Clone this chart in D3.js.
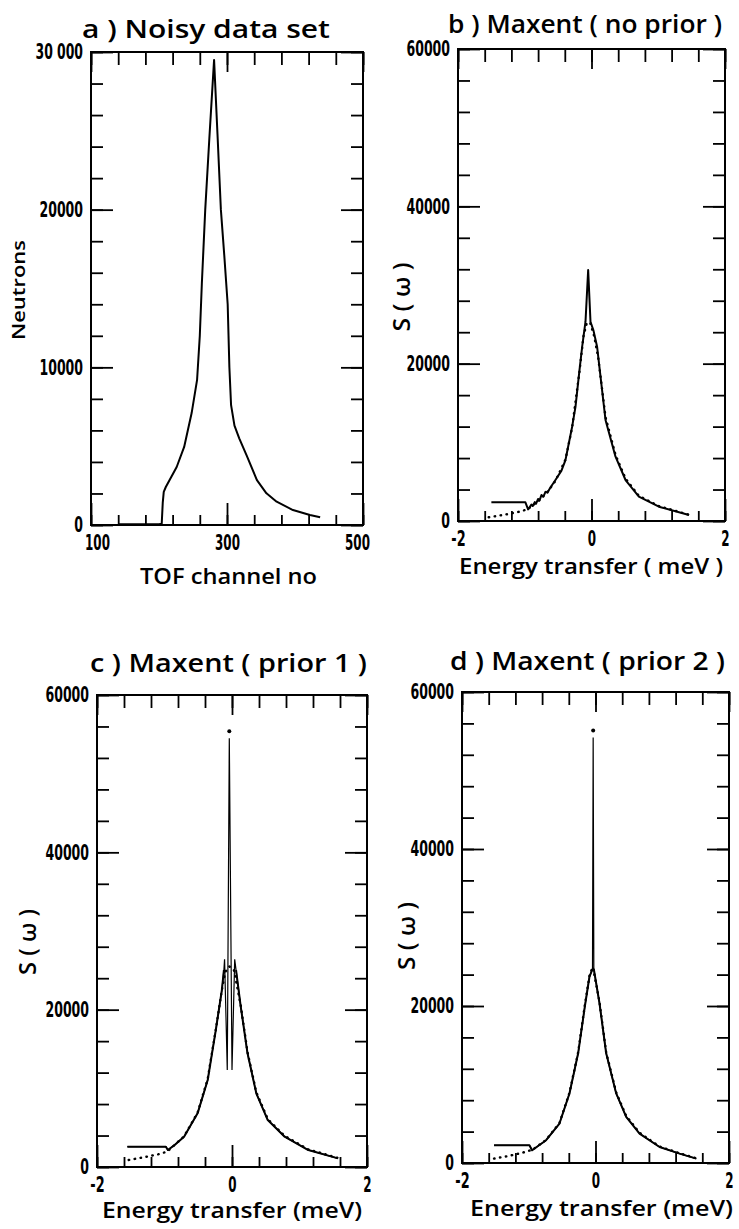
<!DOCTYPE html>
<html>
<head>
<meta charset="utf-8">
<script src="https://cdn.jsdelivr.net/npm/d3@7"></script>
<style>
  body { margin: 0; background: #fff; }
  svg { display: block; }
  .tick line { stroke: #000; stroke-width: 1.8; }
  .tick-label { font-family: "DejaVu Sans Condensed", "DejaVu Sans", sans-serif; font-weight: bold; font-size: 21px; fill: #000; }
  .x-label { font-size: 22px; }
  .title { font-family: "Open Sans", "DejaVu Sans", sans-serif; font-weight: 600; font-size: 25px; fill: #000; }
  .axis-title { font-family: "Open Sans", "DejaVu Sans", sans-serif; font-weight: 600; font-size: 21px; fill: #000; }
</style>
</head>
<body>
<div id="chart"></div>
<script>
// a) noisy data set: TOF channel vs neutron counts
const aChannel = [141, 160, 180, 200, 204, 205.5, 207, 210, 218, 226, 237, 248, 256, 260, 263, 268, 274, 281, 286, 291, 296, 301, 303.5, 306, 311, 318, 329, 344, 358, 373, 397, 422, 437];
const aCounts = [40, 40, 40, 50, 80, 1400, 2100, 2410, 3050, 3680, 4950, 7100, 9200, 12000, 15300, 20000, 24500, 29500, 24800, 20000, 17100, 14000, 10000, 7600, 6300, 5500, 4400, 2850, 2010, 1480, 950, 630, 490];

// b) maxent, no prior
const bEnergy = [-1.5, -1.2, -0.99, -0.95, -0.93, -0.9, -0.88, -0.85, -0.83, -0.8, -0.78, -0.75, -0.72, -0.69, -0.66, -0.62, -0.54, -0.45, -0.39, -0.29, -0.24, -0.18, -0.14, -0.09, -0.05, -0.015, 0.03, 0.084, 0.124, 0.21, 0.36, 0.51, 0.71, 1.01, 1.46];
const bMaxent = [2370, 2370, 2370, 1480, 1700, 2100, 1900, 2400, 2200, 2800, 2600, 3300, 3100, 3700, 3600, 4200, 5210, 6400, 7750, 11990, 14500, 19190, 22150, 25330, 31900, 25330, 24200, 22150, 19190, 12840, 8180, 5210, 3090, 1820, 760];
const bModelEnergy = [-1.54, -1.3, -1.1, -0.96, -0.8, -0.65, -0.54, -0.39, -0.29, -0.18, -0.12, -0.07, -0.02, 0.04, 0.1, 0.21, 0.36, 0.51, 0.71, 1.01, 1.46];
const bModel = [470, 800, 1150, 1480, 2500, 3800, 5100, 7800, 11900, 19000, 23500, 25200, 25200, 23500, 20800, 13200, 8400, 5400, 3200, 1900, 800];

// c) maxent, prior 1
const cEnergy = [-1.55, -0.98, -0.95, -0.85, -0.71, -0.51, -0.36, -0.24, -0.15, -0.12, -0.11, -0.07, -0.04, 0.0, 0.04, 0.06, 0.13, 0.23, 0.36, 0.53, 0.78, 1.13, 1.57];
const cMaxent = [2580, 2580, 2160, 2800, 3850, 6820, 11060, 17410, 22500, 25040, 26400, 12330, 54500, 12330, 26400, 25040, 20370, 14450, 9370, 5970, 3850, 2160, 1100];
const cModelEnergy = [-1.53, -1.3, -1.1, -0.96, -0.71, -0.51, -0.36, -0.24, -0.15, -0.1, -0.04, 0.03, 0.13, 0.23, 0.36, 0.53, 0.78, 1.13, 1.57];
const cModel = [890, 1250, 1600, 1950, 3900, 6900, 11200, 17500, 22500, 24800, 25500, 25000, 20500, 14600, 9500, 6100, 3950, 2250, 1150];
const cPeakEnergy = [-0.04];
const cPeakValue = [55400];

// d) maxent, prior 2
const dEnergy = [-1.52, -0.99, -0.95, -0.74, -0.54, -0.39, -0.26, -0.16, -0.09, -0.045, -0.035, -0.025, 0.06, 0.16, 0.31, 0.46, 0.66, 0.96, 1.26, 1.51];
const dMaxent = [2260, 2260, 1620, 2900, 5030, 8860, 13970, 19920, 23750, 24700, 54200, 24700, 20350, 13970, 8860, 5880, 3750, 2040, 1190, 560];
const dModelEnergy = [-1.52, -1.3, -1.1, -0.94, -0.74, -0.54, -0.39, -0.26, -0.16, -0.09, -0.04, 0.06, 0.16, 0.31, 0.46, 0.66, 0.96, 1.26, 1.51];
const dModel = [560, 900, 1300, 1700, 2950, 5100, 8950, 14100, 20100, 23900, 25000, 20500, 14100, 9000, 6000, 3850, 2100, 1250, 600];
const dPeakEnergy = [-0.035];
const dPeakValue = [55100];

// tick values and labels
const aXTicks = [100, 300, 500];
const aXLabels = ["100", "300", "500"];
const aYTicks = [0, 10000, 20000, 30000];
const aYLabels = ["0", "10000", "20000", "30 000"];
const eXTicks = [-2, 0, 2];
const eXLabels = ["-2", "0", "2"];
const sYTicks = [0, 20000, 40000, 60000];
const sYLabels = ["0", "20000", "40000", "60000"];

const panels = [
  { left: 91, right: 363, top: 52, bottom: 525,
    xDomain: [100, 500], yDomain: [0, 30000], xStep: 40, yStep: 2000,
    xTicks: aXTicks, xLabels: aXLabels, yTicks: aYTicks, yLabels: aYLabels, xLabelShift: [6, 0, -6],
    title: "a )  Noisy data set", titlePos: [82, 38, 248],
    xTitle: "TOF channel no", xTitlePos: [140, 584, 177],
    yTitle: "Neutrons", yTitlePos: [25, 290, 100], yTitleSize: 18,
    solid: d3.zip(aChannel, aCounts) },
  { left: 458, right: 725, top: 49, bottom: 521,
    xDomain: [-2, 2], yDomain: [0, 60000], xStep: 0.4, yStep: 4000,
    xTicks: eXTicks, xLabels: eXLabels, yTicks: sYTicks, yLabels: sYLabels, xLabelShift: [0, 0, 0],
    title: "b ) Maxent ( no prior )", titlePos: [448, 33, 274],
    xTitle: "Energy transfer ( meV )", xTitlePos: [459, 574, 264],
    yTitle: "S ( ω )", yTitlePos: [410, 297, 69], yTitleSize: 24,
    solid: d3.zip(bEnergy, bMaxent), dotted: d3.zip(bModelEnergy, bModel) },
  { left: 97, right: 367, top: 695, bottom: 1167,
    xDomain: [-2, 2], yDomain: [0, 60000], xStep: 0.4, yStep: 4000,
    xTicks: eXTicks, xLabels: eXLabels, yTicks: sYTicks, yLabels: sYLabels, xLabelShift: [0, 0, 0],
    title: "c )   Maxent ( prior 1 )", titlePos: [90, 672, 277],
    xTitle: "Energy transfer (meV)", xTitlePos: [102, 1218, 260],
    yTitle: "S ( ω )", yTitlePos: [36, 942, 66], yTitleSize: 24,
    solid: d3.zip(cEnergy, cMaxent), thickWhere: d => d[0] <= -0.12 || d[0] >= 0.06,
    dotted: d3.zip(cModelEnergy, cModel), dots: d3.zip(cPeakEnergy, cPeakValue) },
  { left: 462, right: 729, top: 692, bottom: 1163,
    xDomain: [-2, 2], yDomain: [0, 60000], xStep: 0.4, yStep: 4000,
    xTicks: eXTicks, xLabels: eXLabels, yTicks: sYTicks, yLabels: sYLabels, xLabelShift: [0, 0, 0],
    title: "d ) Maxent ( prior 2 )", titlePos: [450, 670, 275],
    xTitle: "Energy  transfer (meV)", xTitlePos: [470, 1216, 263],
    yTitle: "S ( ω )", yTitlePos: [415, 936, 68], yTitleSize: 24,
    solid: d3.zip(dEnergy, dMaxent), thickWhere: d => d[0] <= -0.045 || d[0] >= -0.025,
    dotted: d3.zip(dModelEnergy, dModel), dots: d3.zip(dPeakEnergy, dPeakValue) }
];

const svg = d3.select("#chart").append("svg")
  .attr("width", 739)
  .attr("height", 1229);

// condensed look for the tick numbers
function labelWidth(s, digit) {
  let w = 0;
  for (const ch of s) w += ch === " " ? 4 : ch === "-" ? 6 : digit;
  return w;
}

function tickRow(g, axis, transform, values, size) {
  g.append("g")
    .attr("transform", transform)
    .call(axis.tickValues(values).tickSize(size).tickSizeOuter(0).tickFormat(""))
    .call(s => s.select(".domain").remove());
}

function drawPanel(p) {
  const x = d3.scaleLinear().domain(p.xDomain).range([p.left, p.right]);
  const y = d3.scaleLinear().domain(p.yDomain).range([p.bottom, p.top]);
  const g = svg.append("g");

  const xMinor = d3.range(p.xDomain[0], p.xDomain[1] + p.xStep / 2, p.xStep);
  const yMinor = d3.range(p.yDomain[0], p.yDomain[1] + p.yStep / 2, p.yStep);

  // minor ticks on all four sides, pointing inward
  tickRow(g, d3.axisLeft(y), `translate(${p.left},0)`, yMinor, -12);
  tickRow(g, d3.axisRight(y), `translate(${p.right},0)`, yMinor, -12);
  tickRow(g, d3.axisTop(x), `translate(0,${p.top})`, xMinor, -13);
  tickRow(g, d3.axisBottom(x), `translate(0,${p.bottom})`, xMinor, -10);
  // long ticks
  tickRow(g, d3.axisRight(y), `translate(${p.right},0)`, p.yTicks, -22);
  tickRow(g, d3.axisTop(x), `translate(0,${p.top})`, p.xTicks, -20);

  g.append("g")
    .attr("transform", `translate(${p.left},0)`)
    .call(d3.axisLeft(y).tickValues(p.yTicks).tickSize(-22).tickSizeOuter(0).tickPadding(8)
      .tickFormat((d, i) => p.yLabels[i]))
    .call(s => s.select(".domain").remove())
    .selectAll("text").attr("class", "tick-label").attr("dy", "0.32em")
    .attr("textLength", function () { return labelWidth(this.textContent, 8.7); })
    .attr("lengthAdjust", "spacingAndGlyphs");

  g.append("g")
    .attr("transform", `translate(0,${p.bottom})`)
    .call(d3.axisBottom(x).tickValues(p.xTicks).tickSize(-22).tickSizeOuter(0).tickPadding(9)
      .tickFormat((d, i) => p.xLabels[i]))
    .call(s => s.select(".domain").remove())
    .selectAll("text").attr("class", "tick-label x-label")
    .attr("dx", (d, i) => p.xLabelShift[i])
    .attr("textLength", function () { return labelWidth(this.textContent, 8.3); })
    .attr("lengthAdjust", "spacingAndGlyphs");

  // frame
  g.append("rect")
    .attr("x", p.left).attr("y", p.top)
    .attr("width", p.right - p.left).attr("height", p.bottom - p.top)
    .attr("fill", "none").attr("stroke", "#000").attr("stroke-width", 2);

  const line = d3.line().x(d => x(d[0])).y(d => y(d[1]));

  if (p.dotted) {
    g.append("path")
      .datum(p.dotted)
      .attr("d", line)
      .attr("fill", "none")
      .attr("stroke", "#000")
      .attr("stroke-width", 2.4)
      .attr("stroke-linecap", "round")
      .attr("stroke-dasharray", "0.5 5.5");
  }

  if (p.thickWhere) {
    // thin spike, thicker body
    g.append("path").datum(p.solid).attr("d", line)
      .attr("fill", "none").attr("stroke", "#000").attr("stroke-width", 1.2);
    g.append("path").datum(p.solid).attr("d", line.defined(p.thickWhere))
      .attr("fill", "none").attr("stroke", "#000").attr("stroke-width", 2)
      .attr("stroke-linejoin", "round");
  } else {
    g.append("path").datum(p.solid).attr("d", line)
      .attr("fill", "none").attr("stroke", "#000").attr("stroke-width", 2)
      .attr("stroke-linejoin", "round");
  }

  if (p.dots) {
    g.selectAll(".peak").data(p.dots).enter().append("circle")
      .attr("cx", d => x(d[0])).attr("cy", d => y(d[1])).attr("r", 2).attr("fill", "#000");
  }

  // titles
  svg.append("text").attr("class", "title")
    .attr("x", p.titlePos[0]).attr("y", p.titlePos[1])
    .attr("textLength", p.titlePos[2]).attr("lengthAdjust", "spacingAndGlyphs")
    .text(p.title);

  svg.append("text").attr("class", "axis-title")
    .attr("x", p.xTitlePos[0]).attr("y", p.xTitlePos[1])
    .attr("textLength", p.xTitlePos[2]).attr("lengthAdjust", "spacingAndGlyphs")
    .text(p.xTitle);

  svg.append("text").attr("class", "axis-title")
    .attr("transform", `translate(${p.yTitlePos[0]},${p.yTitlePos[1]}) rotate(-90)`)
    .attr("text-anchor", "middle")
    .style("font-size", p.yTitleSize + "px")
    .attr("textLength", p.yTitlePos[2]).attr("lengthAdjust", "spacingAndGlyphs")
    .text(p.yTitle);
}

panels.forEach(drawPanel);
</script>
</body>
</html>
